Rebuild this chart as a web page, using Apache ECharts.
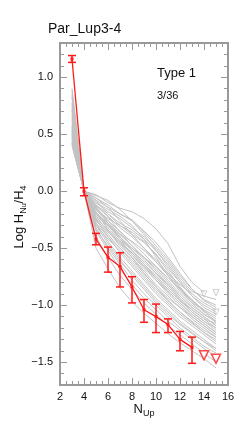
<!DOCTYPE html>
<html><head><meta charset="utf-8">
<script src="https://cdn.jsdelivr.net/npm/echarts@6/dist/echarts.min.js"></script>
<style>html,body{margin:0;padding:0;background:#fff}#c{width:240px;height:428px}</style>
</head><body><div id="c"></div>
<script>
// ---- data ----
const nUp = [3, 4, 5, 6, 7, 8, 9, 10, 11, 12, 13, 14, 15];
const obsN      = [3, 4, 5, 6, 7, 8, 9, 10, 11, 12, 13];
const obsValues = [1.16, 0.00, -0.42, -0.58, -0.66, -0.84, -1.04, -1.10, -1.17, -1.30, -1.37];
const obsLow    = [1.13, -0.04, -0.47, -0.71, -0.84, -0.98, -1.15, -1.24, -1.24, -1.40, -1.51];
const obsHigh   = [1.19, 0.03, -0.37, -0.49, -0.54, -0.75, -0.95, -0.99, -1.12, -1.23, -1.28];
const limitN      = [14, 15];
const limitValues = [-1.44, -1.47];
const greyLimitN      = [14, 15, 15];
const greyLimitValues = [-0.90, -0.89, -1.06];

const g01 = [0.52, 0, -0.03, -0.10, -0.15, -0.18, -0.24, -0.33, -0.46, -0.66, -0.80, -0.89, null];
const g02 = [0.48, 0, -0.06, -0.12, -0.20, -0.25, -0.35, -0.45, -0.58, -0.72, -0.86, -0.95, -1.00];
const g03 = [0.66, 0, -0.10, -0.18, -0.24, -0.32, -0.40, -0.50, -0.62, -0.76, -0.88, -0.92, -0.95];
const g04 = [0.43, 0, -0.08, -0.20, -0.30, -0.38, -0.45, -0.55, -0.68, -0.80, -0.92, -1.02, -1.08];
const g05 = [0.76, 0, -0.12, -0.22, -0.32, -0.40, -0.50, -0.60, -0.72, -0.85, -0.95, -1.05, -1.12];
const g06 = [0.58, 0, -0.15, -0.26, -0.35, -0.45, -0.55, -0.66, -0.78, -0.90, -1.00, -1.08, -1.15];
const g07 = [0.88, 0, -0.14, -0.28, -0.40, -0.50, -0.60, -0.72, -0.84, -0.95, -1.06, -1.14, -1.20];
const g08 = [0.41, 0, -0.18, -0.30, -0.42, -0.52, -0.62, -0.72, -0.82, -0.92, -1.02, -1.10, -1.18];
const g09 = [0.71, 0, -0.20, -0.32, -0.44, -0.56, -0.68, -0.78, -0.88, -0.98, -1.08, -1.16, -1.24];
const g10 = [0.54, 0, -0.22, -0.35, -0.48, -0.58, -0.70, -0.82, -0.92, -1.02, -1.12, -1.20, -1.28];
const g11 = [0.82, 0, -0.24, -0.38, -0.50, -0.62, -0.74, -0.86, -0.96, -1.06, -1.15, -1.24, -1.32];
const g12 = [0.50, 0, -0.25, -0.40, -0.54, -0.66, -0.78, -0.90, -1.00, -1.10, -1.18, -1.26, -1.34];
const g13 = [0.62, 0, -0.28, -0.44, -0.58, -0.70, -0.82, -0.94, -1.04, -1.14, -1.22, -1.30, -1.38];
const g14 = [0.45, 0, -0.30, -0.46, -0.60, -0.74, -0.86, -0.98, -1.08, -1.17, -1.25, -1.32, -1.40];
const g15 = [0.74, 0, -0.32, -0.50, -0.64, -0.78, -0.90, -1.00, -1.10, -1.20, -1.28, -1.36, -1.42];
const g16 = [0.56, 0, -0.35, -0.52, -0.68, -0.82, -0.94, -1.04, -1.14, -1.22, -1.30, -1.38, -1.45];
const g17 = [0.40, 0, -0.10, -0.16, -0.22, -0.30, -0.42, -0.58, -0.74, -0.88, -0.98, -1.04, -1.10];
const g18 = [0.85, 0, -0.16, -0.24, -0.30, -0.36, -0.44, -0.56, -0.70, -0.84, -0.96, -1.06, -1.14];
const g19 = [0.51, 0, -0.13, -0.22, -0.36, -0.48, -0.58, -0.66, -0.76, -0.86, -0.96, -1.04, null];
const g20 = [0.68, 0, -0.18, -0.34, -0.46, -0.54, -0.64, -0.76, -0.86, -0.96, -1.04, -1.12, -1.16];
const g21 = [0.46, 0, -0.20, -0.28, -0.38, -0.48, -0.58, -0.70, -0.82, -0.94, -1.04, -1.12, -1.20];
const g22 = [0.78, 0, -0.26, -0.36, -0.46, -0.58, -0.72, -0.84, -0.94, -1.02, -1.10, -1.18, -1.26];
const g23 = [0.55, 0, -0.12, -0.20, -0.28, -0.34, -0.42, -0.52, -0.64, -0.78, -0.90, -0.98, -1.04];
const g24 = [0.49, 0, -0.22, -0.30, -0.40, -0.52, -0.64, -0.74, -0.86, -0.96, -1.06, -1.14, -1.22];
const g25 = [0.90, 0, -0.08, -0.14, -0.20, -0.26, -0.36, -0.48, -0.60, -0.74, -0.86, -0.96, -1.02];
const g26 = [0.60, 0, -0.30, -0.42, -0.52, -0.64, -0.76, -0.88, -0.98, -1.08, -1.16, -1.24, -1.30];
const g27 = [0.43, 0, -0.14, -0.26, -0.38, -0.44, -0.52, -0.62, -0.74, -0.86, -0.98, -1.08, -1.14];
const g28 = [0.72, 0, -0.40, -0.58, -0.74, -0.86, -0.98, -1.08, -1.18, -1.26, -1.34, -1.42, -1.50];
const g29 = [0.53, 0, -0.50, -0.68, -0.85, -0.97, -1.07, -1.16, -1.25, -1.33, -1.40, -1.47, -1.55];
const g30 = [0.64, 0, -0.06, -0.14, -0.26, -0.38, -0.50, -0.62, -0.72, -0.82, -0.90, null, null];
const g31 = [0.47, 0, -0.16, -0.28, -0.42, -0.56, -0.66, -0.76, -0.88, -0.98, -1.08, -1.16, -1.24];
const g32 = [0.83, 0, -0.20, -0.30, -0.42, -0.50, -0.58, -0.68, -0.80, -0.92, -1.02, -1.10, -1.18];
const g33 = [0.42, 0, -0.28, -0.40, -0.50, -0.60, -0.72, -0.84, -0.96, -1.06, -1.14, -1.22, -1.28];
const g34 = [0.70, 0, -0.24, -0.34, -0.44, -0.54, -0.66, -0.78, -0.90, -1.00, -1.10, -1.18, -1.26];
const g35 = [0.50, 0, -0.34, -0.48, -0.62, -0.72, -0.84, -0.96, -1.06, -1.16, -1.24, -1.32, -1.38];
const g36 = [0.57, 0, -0.04, -0.08, -0.16, -0.26, -0.38, -0.52, -0.66, -0.80, -0.92, -1.00, -1.06];
const greyLines = [g01,g02,g03,g04,g05,g06,g07,g08,g09,g10,g11,g12,g13,g14,g15,g16,g17,g18,
                   g19,g20,g21,g22,g23,g24,g25,g26,g27,g28,g29,g30,g31,g32,g33,g34,g35,g36];

const yMajorTicks = [-1.5, -1.0, -0.5, 0.0, 0.5, 1.0];
const yMinorTicks = [];
for (let i = -17; i <= 13; i++) yMinorTicks.push(i / 10);

const titleText = 'Par_Lup3-4';
const typeText = 'Type 1';
const countText = '3/36';

// ---- chart ----
const FONT = 'Liberation Sans, Arial, Helvetica, sans-serif';
const AX = '#999999';
const RED = '#ff1a1a';
const GREY = '#c2c2c2';
const AXZ = 20;

const chart = echarts.init(document.getElementById('c'));

const fmtY = v => (v < 0 ? '\u2212' : '') + Math.abs(v).toFixed(1);

function yAx(pos, ticks, len, showLine, showLabel) {
  return {
    type: 'value', position: pos, min: -1.7, max: 1.3, z: AXZ,
    axisLine: {show: showLine, onZero: false, lineStyle: {color: AX, width: 2}},
    axisTick: {show: true, inside: true, length: len, customValues: ticks, lineStyle: {color: AX, width: 1}},
    axisLabel: {show: showLabel, customValues: ticks, formatter: fmtY, color: '#111', fontSize: 11, fontFamily: FONT, margin: 7},
    splitLine: {show: false}
  };
}
function xAx(pos, showLabel) {
  return {
    type: 'value', position: pos, min: 2, max: 16, interval: 2, z: AXZ,
    axisLine: {show: true, onZero: false, lineStyle: {color: AX, width: 2}},
    axisTick: {show: true, inside: true, length: 7, lineStyle: {color: AX, width: 1}},
    minorTick: {show: true, splitNumber: 4, length: 4, lineStyle: {color: AX, width: 1}},
    axisLabel: {show: showLabel, color: '#111', fontSize: 11, fontFamily: FONT, margin: 6},
    splitLine: {show: false}, minorSplitLine: {show: false}
  };
}

function barPart(kind) {
  return {
    type: 'custom', silent: true, z: 6,
    data: obsN.map((n, i) => [n, obsLow[i], obsHigh[i]]),
    encode: {x: 0, y: [1, 2]},
    renderItem: (params, api) => {
      const x = api.value(0);
      const lo = api.coord([x, api.value(1)]);
      const hi = api.coord([x, api.value(2)]);
      const w = 4;
      let shape;
      if (kind === 'v') shape = {x1: lo[0], y1: lo[1], x2: hi[0], y2: hi[1]};
      else if (kind === 'lo') shape = {x1: lo[0] - w, y1: lo[1], x2: lo[0] + w, y2: lo[1]};
      else shape = {x1: hi[0] - w, y1: hi[1], x2: hi[0] + w, y2: hi[1]};
      return {type: 'line', shape: shape, style: {stroke: RED, lineWidth: 1.5}};
    }
  };
}

const series = [];
greyLines.forEach(arr => {
  series.push({
    type: 'line', silent: true,
    data: arr.map((v, i) => [nUp[i], v]).filter(d => d[1] !== null),
    showSymbol: false, symbol: 'none',
    lineStyle: {color: GREY, width: 1}, z: 1
  });
});
series.push({
  type: 'scatter', silent: true,
  data: greyLimitN.map((n, i) => [n, greyLimitValues[i]]),
  symbol: 'triangle', symbolRotate: 180, symbolSize: 6,
  itemStyle: {color: 'transparent', borderColor: GREY, borderWidth: 1}, z: 2
});
series.push({
  type: 'line', silent: true,
  data: obsN.map((n, i) => [n, obsValues[i]]),
  symbol: 'rect', symbolSize: 3, showSymbol: true,
  lineStyle: {color: RED, width: 1.3}, itemStyle: {color: RED}, z: 5
});
series.push(barPart('v'), barPart('lo'), barPart('hi'));
series.push({
  type: 'scatter', silent: true,
  data: limitN.map((n, i) => [n, limitValues[i]]),
  symbol: 'triangle', symbolRotate: 180, symbolSize: 9,
  itemStyle: {color: '#fff', borderColor: RED, borderWidth: 1.5}, z: 7
});

chart.setOption({
  animation: false,
  grid: {left: 60, right: 12, top: 43, bottom: 43, show: true, borderColor: AX, borderWidth: 2, backgroundColor: 'transparent'},
  xAxis: [xAx('bottom', true), xAx('top', false)],
  yAxis: [
    yAx('left', yMajorTicks, 7, true, true),
    yAx('left', yMinorTicks, 4, false, false),
    yAx('right', yMajorTicks, 7, true, false),
    yAx('right', yMinorTicks, 4, false, false)
  ],
  series: series,
  graphic: [
    {type: 'text', x: 48, y: 29, style: {text: titleText, font: '14px ' + FONT, fill: '#111', align: 'left', verticalAlign: 'middle'}},
    {type: 'text', x: 157, y: 73, style: {text: typeText, font: '13px ' + FONT, fill: '#111', align: 'left', verticalAlign: 'middle'}},
    {type: 'text', x: 157, y: 96, style: {text: countText, font: '11px ' + FONT, fill: '#111', align: 'left', verticalAlign: 'middle'}},
    {type: 'text', x: 144, y: 409, style: {
      text: '{a|N}{s|Up}', align: 'center', verticalAlign: 'middle', fill: '#111',
      rich: {
        a: {fontSize: 13, fontFamily: FONT, lineHeight: 18, verticalAlign: 'middle', fill: '#111'},
        s: {fontSize: 9, fontFamily: FONT, lineHeight: 9, verticalAlign: 'bottom', fill: '#111'}
      }}},
    {type: 'text', x: 19, y: 217, rotation: Math.PI / 2, style: {
      text: '{a|Log H}{s|N}{t|u}{a|/H}{s|4}', align: 'center', verticalAlign: 'middle', fill: '#111',
      rich: {
        a: {fontSize: 13, fontFamily: FONT, lineHeight: 18, verticalAlign: 'middle', fill: '#111'},
        s: {fontSize: 9, fontFamily: FONT, lineHeight: 9, verticalAlign: 'bottom', fill: '#111'},
        t: {fontSize: 7, fontFamily: FONT, lineHeight: 6, verticalAlign: 'bottom', fill: '#111'}
      }}}
  ]
});
</script>
</body></html>
